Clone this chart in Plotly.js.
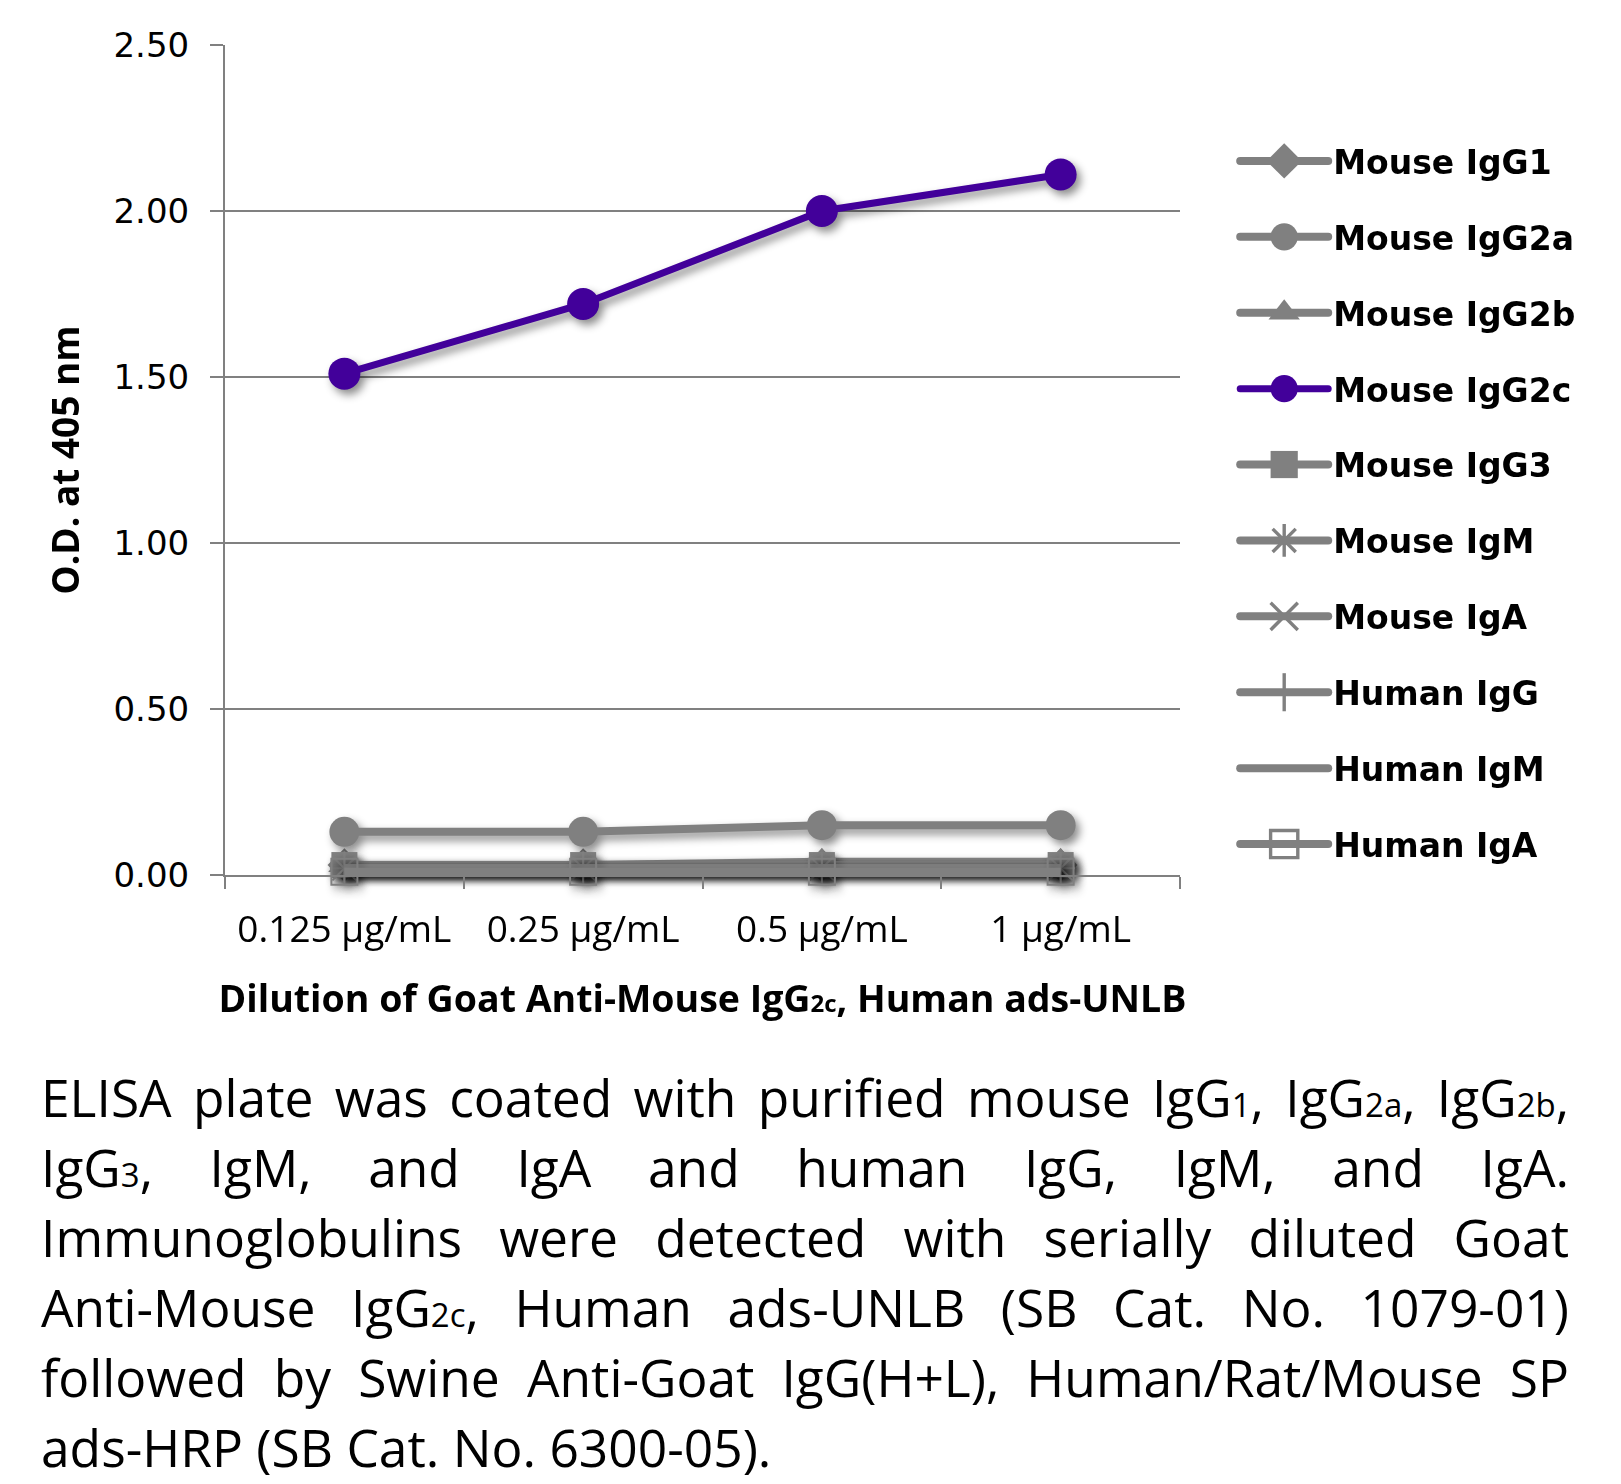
<!DOCTYPE html>
<html>
<head>
<meta charset="utf-8">
<script src="https://cdn.plot.ly/plotly-3.0.1.min.js"></script>
<style>
  html, body { margin: 0; padding: 0; background: #ffffff; }
  #wrap { position: relative; width: 1621px; height: 1484px; overflow: hidden; background: #fff; }
  #chart { position: absolute; left: 0; top: 0; width: 1621px; height: 1040px; }
  #caption { position: absolute; left: 41px; top: 1062px; width: 1528px;
             font-family: "Open Sans", "Noto Sans", sans-serif; font-size: 51.5px;
             line-height: 70px; color: #000; }
  #caption .ln { height: 70px; line-height: 70px; text-align: justify; text-align-last: justify; white-space: normal; }
  #caption .ln.last { text-align: left; text-align-last: left; }
  #caption .s { font-size: 0.64em; line-height: 0; }
  #chart .scatterlayer .trace { filter: drop-shadow(4px 5px 4px rgba(0,0,0,0.45)); }
  #chart .legend .legendlines path { stroke-linecap: round; }
</style>
</head>
<body>
<div id="wrap">
  <div id="chart"></div>
  <div id="caption">
    <div class="ln">ELISA plate was coated with purified mouse IgG<span class="s">1</span>, IgG<span class="s">2a</span>, IgG<span class="s">2b</span>,</div>
    <div class="ln">IgG<span class="s">3</span>, IgM, and IgA and human IgG, IgM, and IgA.</div>
    <div class="ln">Immunoglobulins were detected with serially diluted Goat</div>
    <div class="ln">Anti-Mouse IgG<span class="s">2c</span>, Human ads-UNLB (SB Cat. No. 1079-01)</div>
    <div class="ln">followed by Swine Anti-Goat IgG(H+L), Human/Rat/Mouse SP</div>
    <div class="ln last">ads-HRP (SB Cat. No. 6300-05).</div>
  </div>
</div>
<script>
// ---- data ----
const categories = ['0.125 μg/mL', '0.25 μg/mL', '0.5 μg/mL', '1 μg/mL'];
const seriesNames = ['Mouse IgG1', 'Mouse IgG2a', 'Mouse IgG2b', 'Mouse IgG2c', 'Mouse IgG3',
                     'Mouse IgM', 'Mouse IgA', 'Human IgG', 'Human IgM', 'Human IgA'];
const mouseIgG1  = [0.03, 0.03, 0.03, 0.03];
const mouseIgG2a = [0.13, 0.13, 0.15, 0.15];
const mouseIgG2b = [0.03, 0.03, 0.04, 0.04];
const mouseIgG2c = [1.51, 1.72, 2.00, 2.11];
const mouseIgG3  = [0.03, 0.03, 0.03, 0.03];
const mouseIgM   = [0.02, 0.02, 0.02, 0.02];
const mouseIgA   = [0.02, 0.02, 0.02, 0.02];
const humanIgG   = [0.02, 0.02, 0.02, 0.02];
const humanIgM   = [0.02, 0.02, 0.02, 0.02];
const humanIgA   = [0.01, 0.01, 0.01, 0.01];
const yTickVals  = [0, 0.5, 1.0, 1.5, 2.0, 2.5];

const seriesValues = [mouseIgG1, mouseIgG2a, mouseIgG2b, mouseIgG2c, mouseIgG3,
                      mouseIgM, mouseIgA, humanIgG, humanIgM, humanIgA];
const symbols = ['diamond', 'circle', 'triangle-up', 'circle', 'square',
                 'asterisk-open', 'x-thin-open', 'line-ns-open', null, 'square-open'];
const sizes = [26, 30, 28, 32, 26, 24, 24, 24, 0, 26];

const GRAY = '#808080';
const PURPLE = '#42009a';

const traces = seriesNames.map((name, i) => {
  const col = (i === 3) ? PURPLE : GRAY;
  const t = {
    type: 'scatter',
    x: categories,
    y: seriesValues[i],
    name: name,
    legendgroup: 'g' + i,
    cliponaxis: false,
    line: { color: col, width: (i === 3) ? 7 : 8 },
    hoverinfo: 'skip'
  };
  if (symbols[i]) {
    t.mode = 'lines+markers';
    t.marker = { symbol: symbols[i], size: sizes[i], color: col,
                 line: { color: col, width: symbols[i].indexOf('open') >= 0 ? 2 : 0 } };
  } else {
    t.mode = 'lines';
  }
  return t;
});

// draw gray series first, purple on top (legend order unchanged)
const drawOrder = [0, 1, 2, 4, 5, 6, 7, 8, 9, 3];
const ordered = drawOrder.map(i => Object.assign({}, traces[i], { legendrank: i + 1 }));

const LEG_W = 88;

const layout = {
  width: 1621,
  height: 1040,
  paper_bgcolor: '#ffffff',
  plot_bgcolor: '#ffffff',
  margin: { l: 225, r: 441, t: 45, b: 165 },
  showlegend: true,
  legend: {
    x: 1.0578, xanchor: 'left',
    y: 0.894, yanchor: 'top',
    font: { family: 'DejaVu Sans', size: 33, color: '#000', weight: 'bold' },
    tracegroupgap: 30,
    itemwidth: LEG_W,
    traceorder: 'grouped',
    bgcolor: 'rgba(0,0,0,0)'
  },
  xaxis: {
    type: 'category',
    range: [-0.5, 3.5],
    showgrid: false,
    showline: true, linecolor: GRAY, linewidth: 2,
    ticks: 'outside', tickson: 'boundaries', ticklen: 12, tickwidth: 2, tickcolor: GRAY,
    tickfont: { family: 'Open Sans', size: 37, color: '#000' },
    ticklabelstandoff: 21,
    title: {
      text: 'Dilution of Goat Anti-Mouse IgG<span style="font-size:24px">2c</span>, Human ads-UNLB',
      font: { family: 'Open Sans', size: 37.5, color: '#000', weight: 'bold' },
      standoff: 33
    },
    fixedrange: true
  },
  yaxis: {
    range: [0, 2.5],
    tickvals: yTickVals,
    tickformat: '.2f',
    showgrid: true, gridcolor: GRAY, gridwidth: 2,
    zeroline: false,
    showline: true, linecolor: GRAY, linewidth: 2,
    ticks: 'outside', ticklen: 13, tickwidth: 2, tickcolor: GRAY,
    tickfont: { family: 'DejaVu Sans', size: 34, color: '#000' },
    ticklabelstandoff: 14,
    title: {
      text: 'O.D. at 405 nm',
      font: { family: 'Open Sans', size: 37, color: '#000', weight: 'bold' },
      standoff: 23
    },
    fixedrange: true
  }
};

Plotly.newPlot('chart', ordered, layout, { staticPlot: true, displayModeBar: false }).then(gd => {
  // widen the legend line samples and enlarge legend markers (style only)
  gd.querySelectorAll('.legend .traces').forEach(tr => {
    tr.querySelectorAll('.legendlines path').forEach(p => p.setAttribute('d', 'M5,0h' + LEG_W));
    tr.querySelectorAll('.legendpoints path').forEach(p =>
      p.setAttribute('transform', 'translate(' + (5 + LEG_W / 2) + ',0) scale(1.7)'));
  });
});
</script>
</body>
</html>
